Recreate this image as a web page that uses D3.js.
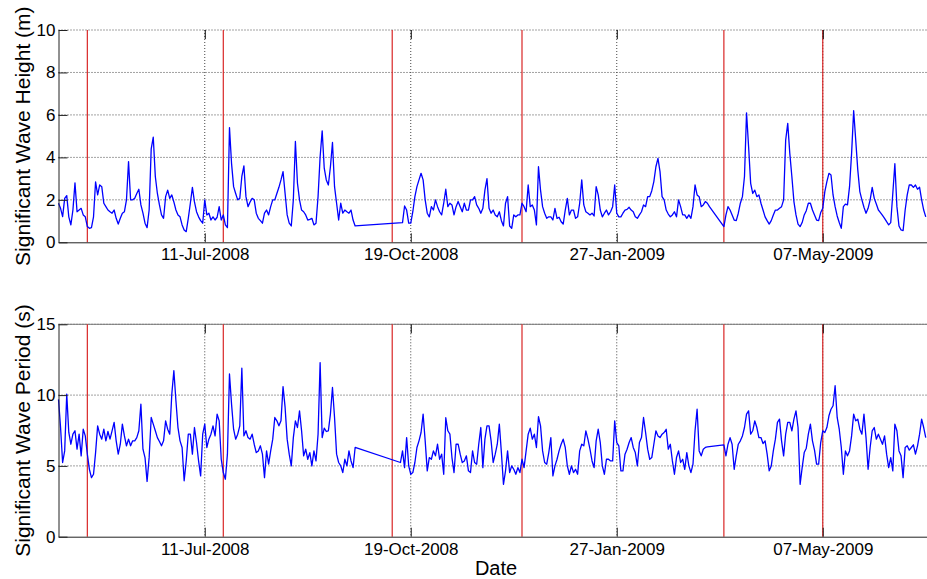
<!DOCTYPE html>
<html>
<head>
<meta charset="utf-8">
<script src="https://cdn.jsdelivr.net/npm/d3@7"></script>
<style>
  body { margin: 0; background: #fff; }
  svg { display: block; font-family: "Liberation Sans", Arial, sans-serif; }
</style>
</head>
<body>
<div id="chart"></div>
<script>
// daily samples from 01-May-2008, null = no data (line is joined across the gap)
var startDay = "2008-05-01";
var endDay = "2009-06-30";
var tickDays = ["2008-07-11", "2008-10-19", "2009-01-27", "2009-05-07"];
var markerDays = ["2008-05-15", "2008-07-20", "2008-10-10", "2008-12-12", "2009-03-20", "2009-05-07"];
var heightTicks = [0, 2, 4, 6, 8, 10];
var periodTicks = [0, 5, 10, 15];

var waveHeight = [
  1.84,1.6,1.21,2.07,2.2,1.2,0.82,1.52,2.8,1.44,
  1.52,1.6,1.29,1.2,0.74,0.66,0.69,1.2,2.85,2.23,
  2.7,2.62,1.84,1.68,1.52,1.44,1.37,1.52,1.13,0.86,
  1.13,1.37,1.44,2.0,3.8,2.0,2.0,2.07,2.3,2.5,
  1.76,1.37,0.9,0.69,1.52,4.4,4.95,3.1,2.3,1.76,
  1.29,1.13,2.15,2.46,2.07,2.23,1.9,1.52,1.29,1.2,
  0.82,0.58,0.5,1.13,1.84,2.59,1.9,1.44,1.2,1.02,
  0.9,2.0,1.29,1.37,1.05,1.2,1.05,1.18,1.68,1.05,
  1.29,0.82,0.69,5.4,3.72,2.62,2.3,2.0,2.07,3.1,
  3.6,2.15,1.68,1.9,2.07,2.0,1.37,1.13,1.02,0.9,
  1.37,1.52,1.29,1.68,2.0,2.0,2.3,2.59,2.94,3.33,
  2.3,1.29,0.9,0.77,2.0,4.75,2.78,2.0,1.52,1.44,
  1.29,1.05,1.08,1.13,0.82,0.9,2.15,4.03,5.25,3.49,
  2.94,2.7,3.56,4.7,2.62,1.84,1.05,1.84,1.37,1.52,
  1.44,1.37,1.52,1.05,0.77,null,null,null,null,null,
  null,null,null,null,null,null,null,null,null,null,
  null,null,null,null,null,null,null,0.93,1.71,1.52,
  0.9,0.9,1.44,2.15,2.62,2.94,3.25,2.94,2.0,1.37,
  1.2,1.68,1.52,2.0,1.68,1.44,1.29,1.84,2.5,1.68,
  1.84,1.76,1.29,1.68,1.92,1.68,1.44,1.84,1.52,1.52,
  2.0,2.0,2.15,1.76,1.6,1.37,1.6,2.46,3.0,1.6,
  1.37,1.52,1.29,1.2,1.44,1.02,0.77,1.84,2.15,0.77,
  0.66,1.29,1.2,1.29,1.29,1.84,1.68,1.44,2.7,1.68,
  1.76,1.52,0.82,3.56,2.46,1.68,1.37,1.13,1.2,1.2,
  1.05,1.6,1.13,1.18,0.97,0.86,1.52,2.07,1.29,1.52,
  1.52,1.13,1.2,1.84,2.94,1.76,1.44,1.37,1.29,1.37,
  1.24,2.62,2.23,1.52,1.2,1.37,1.52,1.29,1.44,1.68,
  2.7,1.37,1.2,1.2,1.37,1.52,1.55,1.65,1.52,1.44,
  1.2,1.13,1.29,1.44,1.76,1.68,2.15,2.15,2.43,2.86,
  3.56,3.95,3.33,2.15,2.0,1.52,1.33,1.2,1.29,1.44,
  1.2,2.0,1.68,1.29,1.29,1.13,1.29,1.13,1.68,2.7,
  2.23,2.15,1.68,1.76,1.92,1.84,1.68,null,null,null,
  null,null,null,0.74,1.29,1.68,1.52,1.29,1.05,1.02,
  1.37,1.84,2.15,3.1,6.1,4.5,2.78,2.3,2.46,2.15,
  2.23,1.84,1.52,1.2,1.02,0.86,1.02,1.29,1.52,1.52,
  1.6,1.68,2.0,4.82,5.6,4.19,3.1,1.92,1.29,0.86,
  0.74,0.93,1.29,1.49,1.84,1.84,1.52,1.29,1.05,1.02,
  1.4,1.6,2.39,2.86,3.25,3.17,2.23,1.68,1.24,0.93,
  0.66,1.68,1.8,1.76,2.62,4.19,6.2,4.82,3.41,2.39,
  2.0,1.65,1.37,1.6,2.0,2.59,2.07,1.8,1.52,1.4,
  1.27,1.13,0.97,0.82,0.93,2.3,3.7,1.68,0.77,0.58,
  0.55,1.52,2.23,2.7,2.7,2.59,2.7,2.5,2.59,2.0,
  1.52,1.2
];

var wavePeriod = [
  9.7,7.71,5.24,6.06,10.07,7.36,6.53,7.24,7.48,6.18,
  7.24,5.71,7.59,7.12,5.83,4.76,4.17,4.41,5.94,7.83,
  7.24,6.89,7.59,6.77,7.43,6.89,7.48,8.07,6.77,5.83,
  6.53,7.95,7.12,6.42,6.89,6.42,6.77,6.77,7.0,7.48,
  9.36,6.18,5.59,3.9,5.6,8.42,7.95,7.48,7.0,6.72,
  6.42,6.77,8.18,7.59,7.24,10.07,11.72,9.6,7.71,6.77,
  6.3,3.95,5.35,7.24,7.24,5.83,7.71,6.65,5.35,4.29,
  7.24,7.95,6.3,6.89,7.24,7.83,7.12,8.66,8.18,5.47,
  4.53,4.06,5.83,11.49,9.36,7.59,6.89,7.24,7.83,11.9,
  7.12,7.48,7.0,6.89,7.24,6.53,5.94,6.06,6.42,5.83,
  4.17,6.06,5.12,6.06,6.89,8.42,8.18,7.83,8.18,10.6,
  9.13,6.89,5.83,5.0,7.0,8.18,7.71,8.89,7.48,5.71,
  6.18,5.47,5.94,5.0,6.06,5.35,7.24,12.3,7.0,7.67,
  7.43,7.48,8.66,10.54,8.42,5.83,5.24,5.0,4.53,5.47,
  5.0,6.06,5.35,4.88,6.3,null,null,null,null,null,
  null,null,null,null,null,null,null,null,null,null,
  null,null,null,null,null,null,5.24,6.06,4.88,7.0,
  5.0,4.41,4.53,5.24,6.3,6.77,7.36,8.66,6.77,4.65,
  5.59,5.47,6.06,5.71,6.53,5.47,5.83,4.41,8.4,7.48,
  7.24,5.59,4.53,6.53,6.53,5.83,5.24,5.35,5.71,4.65,
  4.53,6.06,5.24,5.12,6.53,7.71,4.88,6.89,7.83,7.83,
  6.77,5.24,5.83,6.53,7.95,5.94,3.7,4.65,6.06,4.53,
  5.0,4.76,4.41,4.88,4.53,5.47,4.88,6.06,7.24,7.67,
  6.89,7.24,6.3,8.47,7.83,6.06,5.24,5.12,5.94,7.0,
  4.29,5.0,5.47,6.06,6.53,6.89,6.3,5.0,4.41,5.0,
  4.53,4.76,4.41,6.06,6.53,6.42,7.48,6.89,6.18,5.35,
  4.88,6.77,7.59,6.65,5.0,4.41,5.47,5.47,5.35,5.35,
  8.18,6.65,6.42,4.65,4.65,5.83,6.18,6.65,7.0,6.3,
  5.94,5.0,6.65,7.0,8.42,7.36,6.18,5.47,5.59,6.53,
  7.48,7.12,7.0,7.24,7.36,7.59,6.18,6.53,5.35,4.41,
  5.59,6.06,5.24,5.47,4.76,5.94,5.0,4.53,5.12,7.48,
  9.0,6.06,5.71,6.18,6.3,6.34,null,null,null,null,
  null,null,null,6.49,5.71,6.53,7.0,6.53,4.76,5.71,
  6.53,6.77,7.12,7.71,8.66,8.89,7.24,7.48,8.18,7.71,
  7.0,7.0,6.58,6.77,5.83,4.65,5.0,6.06,6.89,8.07,
  8.3,6.77,5.71,7.24,8.07,8.07,7.48,8.3,8.89,7.71,
  3.7,4.88,5.94,6.25,7.24,7.95,6.77,6.11,5.12,5.12,
  6.65,7.48,7.36,7.71,8.54,9.0,9.25,10.66,8.42,7.59,
  6.3,4.41,6.06,5.71,6.06,7.12,8.66,8.18,8.3,7.59,
  7.24,8.66,7.0,4.76,6.3,7.48,7.71,6.89,7.24,6.89,
  6.53,7.12,5.83,4.88,5.59,4.65,7.95,7.48,6.06,5.71,
  4.17,6.3,6.42,6.11,6.3,6.49,5.83,6.42,7.24,8.3,
  7.71,7.0
];

var W = 927, H = 579;
var left = 58.5, right = 934;   // right edge of the axes is cropped off the picture
var parseDay = d3.utcParse("%Y-%m-%d");
var t0 = parseDay(startDay);

var svg = d3.select("#chart").append("svg").attr("width", W).attr("height", H);
svg.append("rect").attr("width", W).attr("height", H).attr("fill", "#fff");

var x = d3.scaleUtc().domain([t0, parseDay(endDay)]).range([left, right]);

function toPoints(values) {
    var pts = [];
    values.forEach(function (v, i) {
        if (v !== null) pts.push({ t: d3.utcDay.offset(t0, i), v: v });
    });
    return pts;
}

function drawPanel(top, bottom, yMax, yTicks, values, label, dottedTop) {
    var y = d3.scaleLinear().domain([0, yMax]).range([bottom, top]);
    var g = svg.append("g");

    // grid
    g.selectAll("line.hgrid").data(yTicks.slice(1)).enter().append("line")
        .attr("x1", left).attr("x2", right)
        .attr("y1", function (d) { return y(d); }).attr("y2", function (d) { return y(d); })
        .attr("stroke", "#444").attr("stroke-width", 1).attr("stroke-dasharray", "1,2");
    g.selectAll("line.vgrid").data(tickDays).enter().append("line")
        .attr("x1", function (d) { return x(parseDay(d)); }).attr("x2", function (d) { return x(parseDay(d)); })
        .attr("y1", top).attr("y2", bottom)
        .attr("stroke", "#444").attr("stroke-width", 1).attr("stroke-dasharray", "1,2");

    if (!dottedTop) {
        g.append("line").attr("x1", left).attr("x2", right).attr("y1", top).attr("y2", top)
            .attr("stroke", "#777").attr("stroke-width", 1);
    }

    // red markers
    g.selectAll("line.marker").data(markerDays).enter().append("line")
        .attr("x1", function (d) { return x(parseDay(d)); }).attr("x2", function (d) { return x(parseDay(d)); })
        .attr("y1", top).attr("y2", bottom)
        .attr("stroke", "#d92626").attr("stroke-width", 1.2);

    // data
    var line = d3.line().x(function (d) { return x(d.t); }).y(function (d) { return y(d.v); });
    g.append("path").datum(toPoints(values)).attr("d", line)
        .attr("fill", "none").attr("stroke", "#0000ff").attr("stroke-width", 1.3)
        .attr("stroke-linejoin", "round");

    // axes with inward ticks
    var xa = g.append("g").attr("transform", "translate(0," + bottom + ")")
        .call(d3.axisBottom(x).tickValues(tickDays.map(parseDay))
            .tickFormat(d3.utcFormat("%d-%b-%Y")).tickSizeInner(-9).tickSizeOuter(0).tickPadding(6));
    g.append("g").attr("transform", "translate(0," + top + ")")
        .call(d3.axisTop(x).tickValues(tickDays.map(parseDay))
            .tickFormat("").tickSizeInner(-9).tickSizeOuter(0))
        .select(".domain").remove();
    var ya = g.append("g").attr("transform", "translate(" + left + ",0)")
        .call(d3.axisLeft(y).tickValues(yTicks).tickSizeInner(-9).tickSizeOuter(0).tickPadding(3));

    [xa, ya].forEach(function (a) {
        a.select(".domain").attr("stroke", "#222");
        a.selectAll(".tick line").attr("stroke", "#222");
        a.selectAll("text").attr("fill", "#000").style("font-size", "17px")
            .style("font-family", "'Liberation Sans', Arial, sans-serif");
    });

    svg.append("text")
        .attr("transform", "translate(23," + ((top + bottom) / 2) + ") rotate(-90)")
        .attr("text-anchor", "middle").attr("dy", "0.35em")
        .style("font-size", "21px").attr("fill", "#000")
        .text(label);
}

drawPanel(30, 242.3, 10, heightTicks, waveHeight, "Significant Wave Height (m)", true);
drawPanel(324.3, 536.7, 15, periodTicks, wavePeriod, "Significant Wave Period (s)", false);

svg.append("text").attr("x", 496).attr("y", 575).attr("text-anchor", "middle")
    .style("font-size", "20px").attr("fill", "#000").text("Date");
</script>
</body>
</html>
